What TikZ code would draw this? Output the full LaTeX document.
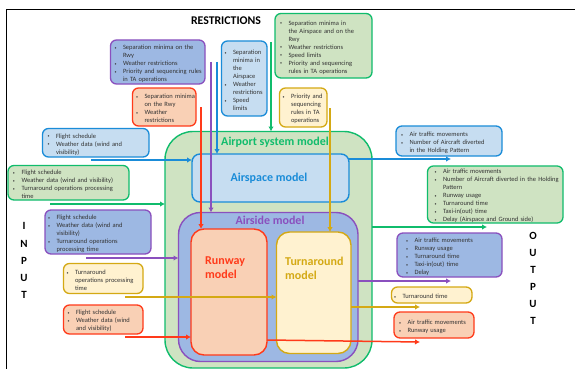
\documentclass[tikz,border=0pt]{standalone}
\usepackage{fontspec}
\setmainfont{Carlito}
\usetikzlibrary{arrows.meta}
\definecolor{gl}{HTML}{10BC6C}\definecolor{gf}{HTML}{CFE3C2}
\definecolor{bl}{HTML}{1A8CD8}\definecolor{bf}{HTML}{C6DDF1}
\definecolor{pl}{HTML}{8A50BE}\definecolor{pf}{HTML}{9DB8E3}
\definecolor{rl}{HTML}{FF3A1A}\definecolor{rf}{HTML}{F9D0B5}
\definecolor{yl}{HTML}{D4A914}\definecolor{yf}{HTML}{FFF2D0}
\newcommand\bul{\par\hangindent=8.5pt\hangafter=1\noindent\makebox[8.5pt][l]{{\fontsize{4}{4}\selectfont\raisebox{0.4pt}{\textbullet}}}}
\tikzset{
 gbox/.style={draw=gl,fill=gf},
 bbox/.style={draw=bl,fill=bf},
 pbox/.style={draw=pl,fill=pf},
 rbox/.style={draw=rl,fill=rf},
 ybox/.style={draw=yl,fill=yf},
 small/.style={line width=1.3pt,rounded corners=6pt,inner sep=0pt,outer sep=0pt,align=left,
   font=\fontsize{6.5}{8}\selectfont,text=black!80},
 model/.style={line width=1.4pt,inner sep=0pt,outer sep=0pt},
 arr/.style={line width=1.5pt,-{Latex[length=5pt,width=5.5pt]}},
 letter/.style={font=\bfseries\fontsize{11}{11}\selectfont,inner sep=0pt},
 mtitle/.style={font=\bfseries\fontsize{12}{14}\selectfont,inner sep=0pt,align=left},
}
% name, style, x1, y1, x2, y2, left inset, text
\newcommand\bx[8]{%
 \pgfmathsetmacro\cxx{(#3+#5)/2}\pgfmathsetmacro\cyy{(#4+#6)/2}%
 \pgfmathsetmacro\ww{#5-#3}\pgfmathsetmacro\hh{#6-#4}%
 \node[small,#2,minimum height=\hh pt,text width=\ww pt] (#1) at (\cxx,\cyy) {\leftskip=#7pt\relax\hyphenpenalty=10000\relax #8\par};}
\newcommand\mb[7]{%
 \pgfmathsetmacro\cxx{(#3+#5)/2}\pgfmathsetmacro\cyy{(#4+#6)/2}%
 \pgfmathsetmacro\ww{#5-#3}\pgfmathsetmacro\hh{#6-#4}%
 \node[model,#2,rounded corners=#7pt,minimum width=\ww pt,minimum height=\hh pt] (#1) at (\cxx,\cyy) {};}
\begin{document}
\begin{tikzpicture}[x=1pt,y=-1pt]
\useasboundingbox (0,0) rectangle (575,369);
\fill[white] (0,0) rectangle (575,369);
\coordinate (frameA) at (6.5,369);
\coordinate (frameB) at (6.5,9.5);
\coordinate (frameC) at (575,9.5);
\draw[line width=1.6pt,black] (frameA) -- (frameB) -- (frameC);

\node[inner sep=0pt,font=\bfseries\fontsize{11.8}{13}\selectfont] (restr) at (226,21) {RESTRICTIONS};

% models
\mb{airport}{gbox}{165}{131.5}{372}{368}{28}
\mb{airspace}{bbox}{192}{154}{349}{202}{8}
\mb{airside}{pbox}{178.5}{212.5}{358}{361.5}{22}
\mb{runway}{rbox}{191}{229}{267}{355}{13}
\mb{turn}{ybox}{276.5}{232}{351}{353.5}{13}

\node[mtitle,text=gl] (tAirport) at (275,142) {Airport system model};
\node[mtitle,text=bl] (tAirspace) at (269,178) {Airspace model};
\node[mtitle,text=pl] (tAirside) at (270,220) {Airside model};
\node[mtitle,text=rl,anchor=west] (tRunway) at (205,267.5) {Runway\\model};
\node[mtitle,text=yl,anchor=west] (tTurn) at (285,268) {Turnaround\\model};

% restriction boxes
\bx{rP}{pbox}{110.5}{40}{205}{84}{4}{\bul Separation minima on the\newline Rwy\bul Weather restrictions\bul Priority and sequencing rules\newline in TA operations}
\bx{rR}{rbox}{132.5}{88}{196}{126}{3.5}{\bul Separation minima\newline on the Rwy\bul Weather\newline restrictions}
\bx{rB}{bbox}{221.5}{41}{267}{116}{3}{\bul Separation\newline minima in\newline the\newline Airspace\bul Weather\newline restrictions\bul Speed\newline limits}
\bx{rG}{gbox}{275}{13.5}{372}{78}{5}{\bul Separation minima in\newline the Airspace and on the\newline Rwy\bul Weather restrictions\bul Speed limits\bul Priority and sequencing\newline rules in TA operations}
\bx{rY}{ybox}{279.5}{88}{327}{127}{3}{\bul Priority and\newline sequencing\newline rules in TA\newline operations}

% input boxes
\bx{iB}{bbox}{42.5}{128.5}{149}{157}{5}{\bul Flight schedule\bul Weather data (wind and\newline visibility)}
\bx{iG}{gbox}{8}{165.5}{129}{200}{5}{\bul Flight schedule\bul Weather data (wind and visibility)\bul Turnaround operations processing\newline time}
\bx{iP}{pbox}{45}{210}{151}{254}{3}{\bul Flight schedule\bul Weather data (wind and\newline visibility)\bul Turnaround operations\newline processing time}
\bx{iY}{ybox}{63.5}{263.5}{143}{293.5}{3}{\bul Turnaround\newline operations processing\newline time}
\bx{iR}{rbox}{63.5}{305}{143}{334}{4}{\bul Flight schedule\bul Weather data (wind\newline and visibility)}

% output boxes
\bx{oB}{bbox}{396}{126}{502}{156}{5}{\bul Air traffic movements\bul Number of Aircraft diverted\newline in the Holding Pattern}
\bx{oG}{gbox}{427.5}{166}{563}{223}{7}{\bul Air traffic movements\bul Number of Aircraft diverted in the Holding\newline Pattern\bul Runway usage\bul Turnaround time\bul Taxi-in(out) time\bul Delay (Airspace and Ground side)}
\bx{oP}{pbox}{397}{233}{502}{277}{9}{\bul Air traffic movements\bul Runway usage\bul Turnaround time\bul Taxi-in(out) time\bul Delay}
\bx{oY}{ybox}{391.5}{287}{472}{303}{2.5}{\bul Turnaround time}
\bx{oR}{rbox}{394}{312}{474}{338}{5}{\bul Air traffic movements\bul Runway usage}

% connector starts
\coordinate (sP) at (211,62);
\coordinate (sB) at (217,62);
\coordinate (sR) at (201,107);
\coordinate (sG) at (271,42);
\coordinate (sY) at (330,108);
\coordinate (hB) at (91,160);
\coordinate (hG) at (50,204);
\coordinate (hP) at (86,258);
\coordinate (hY) at (125,297);
\coordinate (hR) at (125,337);
\coordinate (eB) at (451,159);
\coordinate (eG) at (487,227);
\coordinate (eP) at (451,281);
\coordinate (eY) at (420,307);
\coordinate (eR) at (420,342);
\coordinate (sROut) at (267,340);

\draw[arr,draw=rl] (sR) -- (sR |- runway.north);
\draw[arr,draw=pl] (sP) -- (sP |- airside.north);
\draw[arr,draw=bl] (sB) -- (sB |- airspace.north);
\draw[arr,draw=gl] (sG) -- (sG |- airport.north);
\draw[arr,draw=yl] (sY) -- (sY |- turn.north);

\draw[arr,draw=bl] (hB) -- (hB -| airspace.west);
\draw[arr,draw=gl] (hG) -- (hG -| airport.west);
\draw[arr,draw=pl] (hP) -- (hP -| airside.west);
\draw[arr,draw=yl] (hY) -- (hY -| turn.west);
\draw[arr,draw=rl] (hR) -- (hR -| runway.west);

\draw[arr,draw=bl] (eB -| airspace.east) -- (eB);
\draw[arr,draw=gl] (eG -| airport.east) -- (eG);
\draw[arr,draw=pl] (eP -| airside.east) -- (eP);
\draw[arr,draw=yl] (eY -| turn.east) -- (eY);
\draw[arr,draw=rl] (sROut) -- (eR);

% side labels
\node[letter] (i1) at (24,226) {I};
\node[letter] (i2) at (24,244) {N};
\node[letter] (i3) at (24,261) {P};
\node[letter] (i4) at (24,278) {U};
\node[letter] (i5) at (24,295) {T};
\node[letter] (o1) at (533,236) {O};
\node[letter] (o2) at (533,253) {U};
\node[letter] (o3) at (533,270) {T};
\node[letter] (o4) at (533,287) {P};
\node[letter] (o5) at (533,304) {U};
\node[letter] (o6) at (533,321) {T};
\end{tikzpicture}
\end{document}
